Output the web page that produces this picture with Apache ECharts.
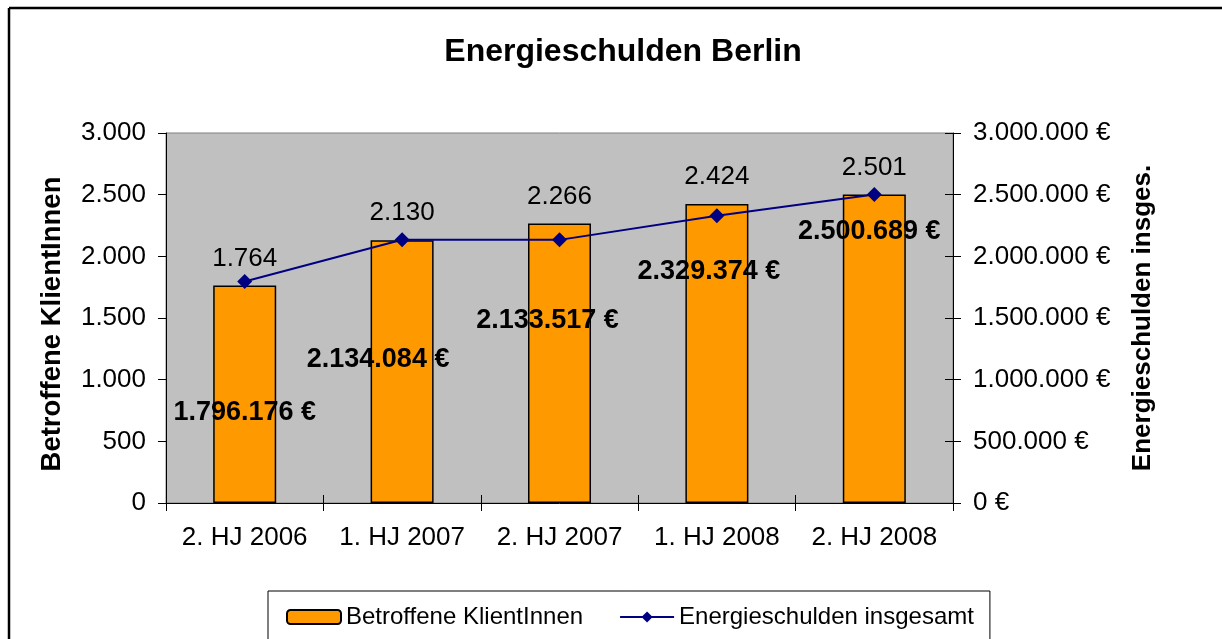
<!DOCTYPE html>
<html>
<head>
<meta charset="utf-8">
<script src="https://cdn.jsdelivr.net/npm/echarts@6/dist/echarts.min.js"></script>
<style>
html,body{margin:0;padding:0;background:#fff;}
#chart{width:1222px;height:639px;}
</style>
</head>
<body>
<div id="chart"></div>
<script>
const categories = ['2. HJ 2006', '1. HJ 2007', '2. HJ 2007', '1. HJ 2008', '2. HJ 2008'];
const klienten = [1764, 2130, 2266, 2424, 2501];
const schulden = [1796176, 2134084, 2133517, 2329374, 2500689];
const leftAxisMax = 3000, leftAxisStep = 500;
const rightAxisMax = 3000000, rightAxisStep = 500000;

// manual label placements (as in the original)
const lineLabelOffsets = [[0, 131], [-24, 120], [-12, 81], [-8, 56], [-5, 37]];

const FONT = '"Liberation Sans", Arial, sans-serif';
function dots(v) {
  return String(Math.round(v)).replace(/\B(?=(\d{3})+(?!\d))/g, '.');
}

const chart = echarts.init(document.getElementById('chart'));
const option = {
  animation: false,
  backgroundColor: '#ffffff',
  textStyle: { fontFamily: FONT, color: '#000' },
  title: {
    text: 'Energieschulden Berlin',
    left: 618, top: 31, textAlign: 'center',
    textStyle: { fontFamily: FONT, fontSize: 32, fontWeight: 'bold', color: '#000' }
  },
  graphic: [
    { type: 'line', shape: { x1: 9, y1: 8, x2: 1222, y2: 8 }, style: { stroke: '#000', lineWidth: 2.5 } },
    { type: 'line', shape: { x1: 9, y1: 8, x2: 9, y2: 639 }, style: { stroke: '#000', lineWidth: 2.5 } }
  ],
  legend: {
    left: 268, top: 591,
    padding: [14, 16, 20, 18],
    borderColor: '#000', borderWidth: 1,
    itemWidth: 54, itemHeight: 14, itemGap: 36,
    textStyle: { fontFamily: FONT, fontSize: 24, color: '#000' },
    data: ['Betroffene KlientInnen', 'Energieschulden insgesamt']
  },
  grid: {
    left: 166, right: 269, top: 133, bottom: 136,
    show: true, backgroundColor: '#C0C0C0', borderColor: '#808080', borderWidth: 1
  },
  xAxis: [{
    type: 'category', data: categories, position: 'bottom',
    axisLine: { lineStyle: { color: '#000', width: 1 } },
    axisTick: { show: true, length: 8, lineStyle: { color: '#000' } },
    axisLabel: { fontFamily: FONT, fontSize: 26, color: '#000', margin: 22, interval: 0 },
    splitLine: { show: false }
  }, {
    type: 'category', data: categories, position: 'bottom',
    axisLine: { show: false },
    axisTick: { show: true, inside: true, length: 8, lineStyle: { color: '#000' } },
    axisLabel: { show: false },
    splitLine: { show: false }
  }],
  yAxis: [{
    type: 'value', min: 0, max: leftAxisMax, interval: leftAxisStep, position: 'left',
    name: 'Betroffene KlientInnen', nameLocation: 'middle', nameGap: 100,
    nameTextStyle: { fontFamily: FONT, fontSize: 27.5, fontWeight: 'bold', color: '#000', padding: [0, 12, 0, 0] },
    axisLine: { show: true, lineStyle: { color: '#000', width: 1 } },
    axisTick: { show: true, length: 8, lineStyle: { color: '#000' } },
    axisLabel: { fontFamily: FONT, fontSize: 26, color: '#000', margin: 20, formatter: v => dots(v) },
    splitLine: { show: false }
  }, {
    type: 'value', min: 0, max: rightAxisMax, interval: rightAxisStep, position: 'right',
    name: 'Energieschulden insges.', nameLocation: 'middle', nameGap: 177,
    nameTextStyle: { fontFamily: FONT, fontSize: 26, fontWeight: 'bold', color: '#000' },
    axisLine: { show: true, lineStyle: { color: '#000', width: 1 } },
    axisTick: { show: true, length: 8, lineStyle: { color: '#000' } },
    axisLabel: { fontFamily: FONT, fontSize: 26, color: '#000', margin: 20, formatter: v => dots(v) + ' €' },
    splitLine: { show: false }
  }, {
    type: 'value', min: 0, max: rightAxisMax, interval: rightAxisStep, position: 'right',
    axisLine: { show: false },
    axisTick: { show: true, inside: true, length: 8, lineStyle: { color: '#000' } },
    axisLabel: { show: false },
    splitLine: { show: false }
  }],
  series: [{
    name: 'Betroffene KlientInnen',
    type: 'bar',
    xAxisIndex: 0, yAxisIndex: 0,
    data: klienten,
    barWidth: 63,
    itemStyle: { color: '#FF9900', borderColor: '#000', borderWidth: 1.5 },
    label: {
      show: true, position: 'top', distance: 14,
      fontFamily: FONT, fontSize: 26, color: '#000',
      formatter: p => dots(p.value)
    },
    z: 2
  }, {
    name: 'Energieschulden insgesamt',
    type: 'line',
    xAxisIndex: 0, yAxisIndex: 1,
    data: schulden.map((v, i) => ({ value: v, label: { offset: lineLabelOffsets[i] } })),
    symbol: 'diamond', symbolSize: 15,
    lineStyle: { color: '#000080', width: 2 },
    itemStyle: { color: '#000080' },
    label: {
      show: true, position: 'inside',
      fontFamily: FONT, fontSize: 27, fontWeight: 'bold', color: '#000',
      formatter: p => dots(p.value) + ' €'
    },
    z: 5
  }]
};
chart.setOption(option);
</script>
</body>
</html>
